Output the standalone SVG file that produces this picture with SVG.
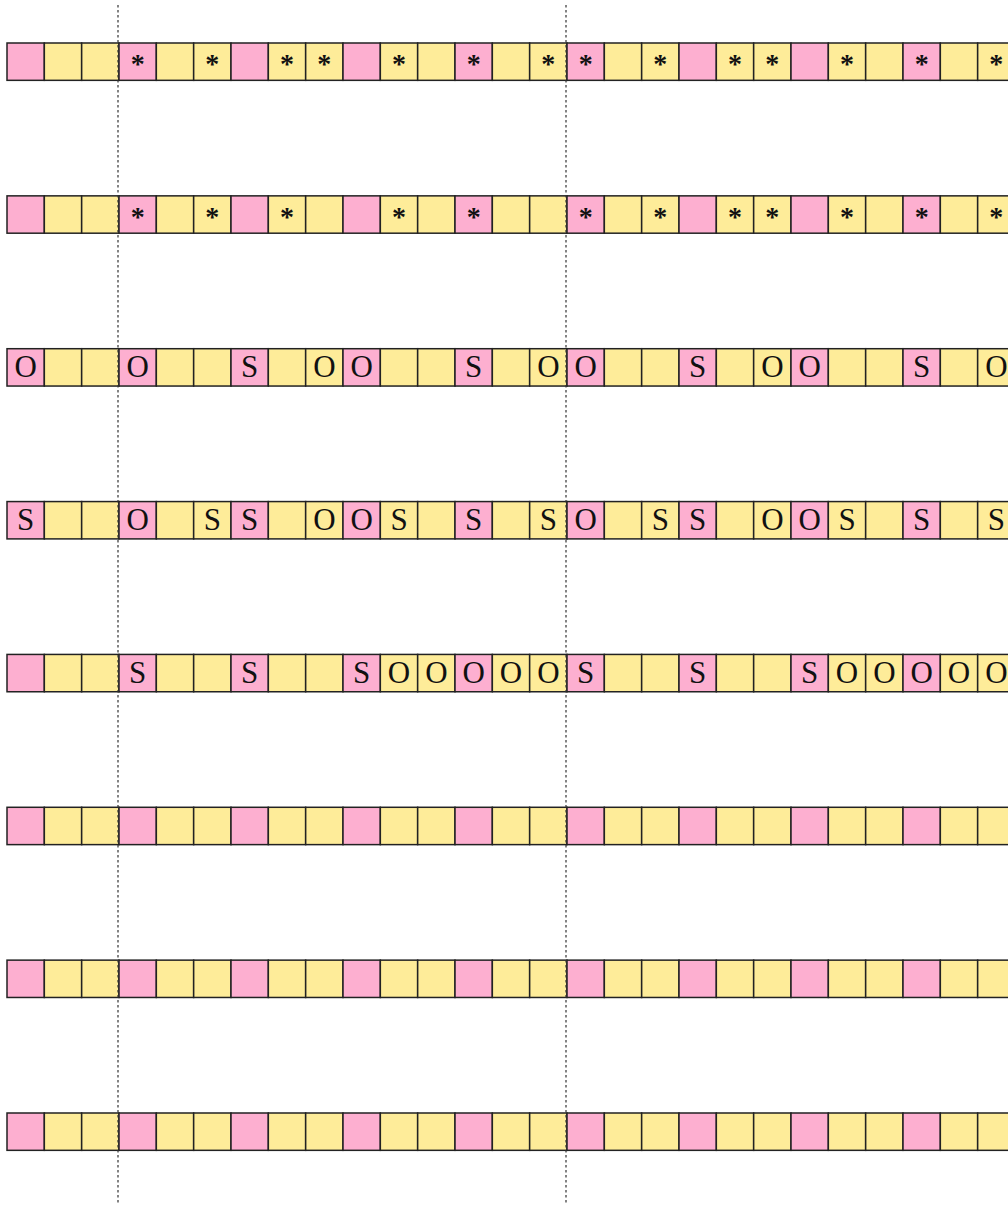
<svg xmlns="http://www.w3.org/2000/svg" xmlns:xlink="http://www.w3.org/1999/xlink" width="1008" height="1205" viewBox="0 0 1008 1205">
<style>
.pk{fill:#fdafd0;stroke:#222;stroke-width:1.5}
.yl{fill:#feec99;stroke:#222;stroke-width:1.5}
.ch{font-family:"Liberation Serif","Times New Roman",serif;font-size:31px;text-anchor:middle;fill:#111}
.st{font-family:"Liberation Serif","Times New Roman",serif;font-size:28px;font-weight:bold;text-anchor:middle;fill:#111}
.dash{stroke:#333;stroke-width:1.2;stroke-dasharray:2.5 2.5;fill:none}
</style>
<defs>
<rect id="p" class="pk" width="37.33" height="37.33"/>
<rect id="y" class="yl" width="37.33" height="37.33"/>
<g id="rowcells">
<use href="#p" x="7"/><use href="#y" x="44.33"/><use href="#y" x="81.67"/>
<use href="#p" x="119"/><use href="#y" x="156.33"/><use href="#y" x="193.67"/>
<use href="#p" x="231"/><use href="#y" x="268.33"/><use href="#y" x="305.67"/>
<use href="#p" x="343"/><use href="#y" x="380.33"/><use href="#y" x="417.67"/>
<use href="#p" x="455"/><use href="#y" x="492.33"/><use href="#y" x="529.67"/>
<use href="#p" x="567"/><use href="#y" x="604.33"/><use href="#y" x="641.67"/>
<use href="#p" x="679"/><use href="#y" x="716.33"/><use href="#y" x="753.67"/>
<use href="#p" x="791"/><use href="#y" x="828.33"/><use href="#y" x="865.67"/>
<use href="#p" x="903"/><use href="#y" x="940.33"/><use href="#y" x="977.67"/>
</g>
</defs>
<g id="row1" transform="translate(0,43)">
<use href="#rowcells"/>
<g class="st">
<text x="137.67" y="30">*</text><text x="212.33" y="30">*</text><text x="287" y="30">*</text><text x="324.33" y="30">*</text><text x="399" y="30">*</text><text x="473.67" y="30">*</text><text x="548.33" y="30">*</text><text x="585.67" y="30">*</text><text x="660.33" y="30">*</text><text x="735" y="30">*</text><text x="772.33" y="30">*</text><text x="847" y="30">*</text><text x="921.67" y="30">*</text><text x="996.33" y="30">*</text>
</g>
</g>
<g id="row2" transform="translate(0,195.86)">
<use href="#rowcells"/>
<g class="st">
<text x="137.67" y="30">*</text><text x="212.33" y="30">*</text><text x="287" y="30">*</text><text x="399" y="30">*</text><text x="473.67" y="30">*</text><text x="585.67" y="30">*</text><text x="660.33" y="30">*</text><text x="735" y="30">*</text><text x="772.33" y="30">*</text><text x="847" y="30">*</text><text x="921.67" y="30">*</text><text x="996.33" y="30">*</text>
</g>
</g>
<g id="row3" transform="translate(0,348.71)">
<use href="#rowcells"/>
<g class="ch">
<text x="25.67" y="28.5">O</text><text x="137.67" y="28.5">O</text><text x="249.67" y="28.5">S</text><text x="324.33" y="28.5">O</text><text x="361.67" y="28.5">O</text><text x="473.67" y="28.5">S</text><text x="548.33" y="28.5">O</text><text x="585.67" y="28.5">O</text><text x="697.67" y="28.5">S</text><text x="772.33" y="28.5">O</text><text x="809.67" y="28.5">O</text><text x="921.67" y="28.5">S</text><text x="996.33" y="28.5">O</text>
</g>
</g>
<g id="row4" transform="translate(0,501.57)">
<use href="#rowcells"/>
<g class="ch">
<text x="25.67" y="28.5">S</text><text x="137.67" y="28.5">O</text><text x="212.33" y="28.5">S</text><text x="249.67" y="28.5">S</text><text x="324.33" y="28.5">O</text><text x="361.67" y="28.5">O</text><text x="399" y="28.5">S</text><text x="473.67" y="28.5">S</text><text x="548.33" y="28.5">S</text><text x="585.67" y="28.5">O</text><text x="660.33" y="28.5">S</text><text x="697.67" y="28.5">S</text><text x="772.33" y="28.5">O</text><text x="809.67" y="28.5">O</text><text x="847" y="28.5">S</text><text x="921.67" y="28.5">S</text><text x="996.33" y="28.5">S</text>
</g>
</g>
<g id="row5" transform="translate(0,654.43)">
<use href="#rowcells"/>
<g class="ch">
<text x="137.67" y="28.5">S</text><text x="249.67" y="28.5">S</text><text x="361.67" y="28.5">S</text><text x="399" y="28.5">O</text><text x="436.33" y="28.5">O</text><text x="473.67" y="28.5">O</text><text x="511" y="28.5">O</text><text x="548.33" y="28.5">O</text><text x="585.67" y="28.5">S</text><text x="697.67" y="28.5">S</text><text x="809.67" y="28.5">S</text><text x="847" y="28.5">O</text><text x="884.33" y="28.5">O</text><text x="921.67" y="28.5">O</text><text x="959" y="28.5">O</text><text x="996.33" y="28.5">O</text>
</g>
</g>
<g id="row6" transform="translate(0,807.29)">
<use href="#rowcells"/>
</g>
<g id="row7" transform="translate(0,960.14)">
<use href="#rowcells"/>
</g>
<g id="row8" transform="translate(0,1113)">
<use href="#rowcells"/>
</g>
<g id="connectors">
<line class="dash" x1="118" y1="5" x2="118" y2="1205"/>
<line class="dash" x1="566" y1="5" x2="566" y2="1205"/>
</g>
</svg>
